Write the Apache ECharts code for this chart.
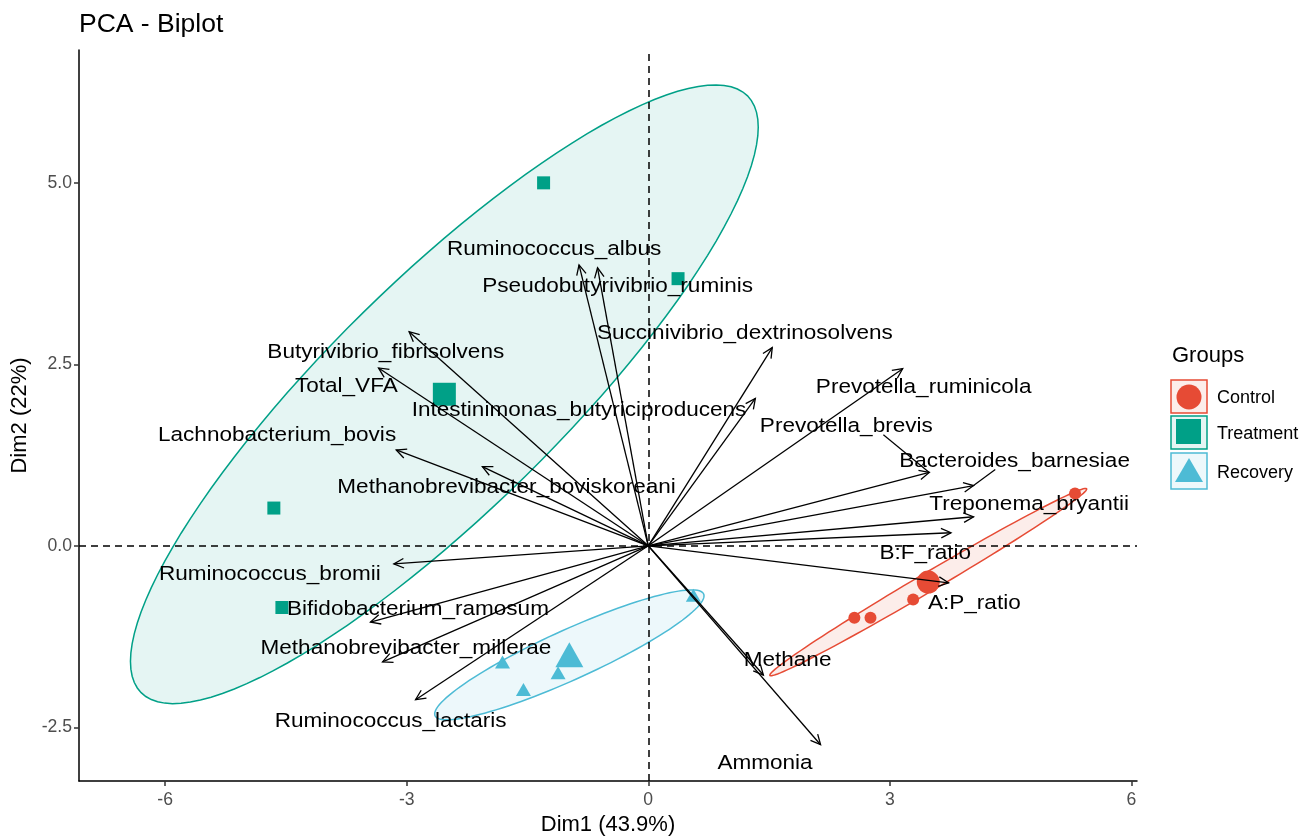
<!DOCTYPE html>
<html>
<head>
<meta charset="utf-8">
<title>PCA - Biplot</title>
<script src="https://cdn.jsdelivr.net/npm/echarts@6/dist/echarts.min.js"></script>
<style>
  html, body { margin: 0; padding: 0; background: #fff; }
  #chart { width: 1316px; height: 839px; }
</style>
</head>
<body>
<div id="chart"></div>
<script>
const FONT = "'Liberation Sans', Arial, sans-serif"

// variables: arrow tips on Dim1 / Dim2
const varNames = ['Ruminococcus_albus', 'Pseudobutyrivibrio_ruminis', 'Butyrivibrio_fibrisolvens', 'Total_VFA',
  'Lachnobacterium_bovis', 'Methanobrevibacter_boviskoreani', 'Intestinimonas_butyriciproducens',
  'Succinivibrio_dextrinosolvens', 'Prevotella_ruminicola', 'Prevotella_brevis', 'Bacteroides_barnesiae',
  'Treponema_bryantii', 'B:F_ratio', 'A:P_ratio', 'Methane', 'Ammonia', 'Ruminococcus_bromii',
  'Bifidobacterium_ramosum', 'Methanobrevibacter_millerae', 'Ruminococcus_lactaris']
const varDim1 = [-0.86, -0.63, -2.97, -3.35, -3.13, -2.06, 1.33, 1.54, 3.16, 3.49, 4.04, 4.04, 3.76, 3.73, 1.43, 2.14, -3.16, -3.45, -3.30, -2.89]
const varDim2 = [3.87, 3.83, 2.95, 2.45, 1.32, 1.09, 2.03, 2.73, 2.44, 1.01, 0.83, 0.40, 0.18, -0.51, -1.78, -2.74, -0.25, -1.05, -1.60, -2.12]
// where the (repelled) labels sit
const labelDim1 = [-1.17, -0.38, -3.26, -3.75, -4.61, -1.76, -0.86, 1.20, 3.42, 2.46, 4.55, 4.73, 3.44, 4.05, 1.73, 1.45, -4.70, -2.86, -3.01, -3.20]
const labelDim2 = [4.08, 3.57, 2.67, 2.19, 1.52, 0.81, 1.86, 2.93, 2.18, 1.65, 1.17, 0.57, -0.10, -0.79, -1.58, -2.99, -0.40, -0.87, -1.41, -2.42]
// leader segments drawn by the label repel
const leaderVars = [9, 10]
const leaderDim1 = [2.92, 4.31]
const leaderDim2 = [1.53, 1.05]

// individuals
const groupNames = ['Control', 'Treatment', 'Recovery']
const controlDim1 = [2.56, 2.76, 3.29, 5.30]
const controlDim2 = [-0.99, -0.99, -0.74, 0.72]
const treatmentDim1 = [-1.30, 0.37, -4.65, -4.55]
const treatmentDim2 = [5.00, 3.68, 0.52, -0.85]
const recoveryDim1 = [0.56, -1.81, -1.55, -1.12]
const recoveryDim2 = [-0.68, -1.60, -1.98, -1.75]

const xTicks = [-6, -3, 0, 3, 6]
const yTicks = [-2.5, 0, 2.5, 5]

const colors = ['#E64B35', '#00A087', '#4DBBD5']
const fills = ['rgba(230,75,53,0.10)', 'rgba(0,160,135,0.10)', 'rgba(77,187,213,0.10)']
const ELLIPSE_R = 1.57

const groupX = [controlDim1, treatmentDim1, recoveryDim1]
const groupY = [controlDim2, treatmentDim2, recoveryDim2]

// group means and ellipses from the covariance of each group
const means = groupX.map((xs, g) => {
  const ys = groupY[g]
  const mx = xs.reduce((a, b) => a + b, 0) / xs.length
  const my = ys.reduce((a, b) => a + b, 0) / ys.length
  return [mx, my]
})
const ellipses = groupX.map((xs, g) => {
  const ys = groupY[g]
  const n = xs.length
  const [mx, my] = means[g]
  let sxx = 0, syy = 0, sxy = 0
  for (let i = 0; i < n; i++) {
    sxx += (xs[i] - mx) * (xs[i] - mx)
    syy += (ys[i] - my) * (ys[i] - my)
    sxy += (xs[i] - mx) * (ys[i] - my)
  }
  sxx /= n - 1; syy /= n - 1; sxy /= n - 1
  const a = Math.sqrt(sxx)
  const b = sxy / a
  const c = Math.sqrt(Math.max(syy - b * b, 0))
  const pts = []
  for (let k = 0; k < 120; k++) {
    const t = 2 * Math.PI * k / 120
    pts.push([mx + ELLIPSE_R * a * Math.cos(t), my + ELLIPSE_R * (b * Math.cos(t) + c * Math.sin(t))])
  }
  return pts
})

const chart = echarts.init(document.getElementById('chart'))

function pointSeries (g, symbol, size, data) {
  return {
    type: 'scatter',
    name: groupNames[g],
    symbol: symbol,
    symbolSize: size,
    itemStyle: { color: colors[g], opacity: 1 },
    data: data,
    z: 3,
    silent: true
  }
}
const zip = (xs, ys) => xs.map((x, i) => [x, ys[i]])
const symbols = ['circle', 'rect', 'triangle']
const smallSizes = [12, 13, [15, 13]]
const bigSizes = [23, 23, [28, 25]]

const series = [
  {
    // ellipses
    type: 'custom',
    z: 1,
    silent: true,
    data: means.map((m, g) => [m[0], m[1], g]),
    renderItem: function (params, api) {
      const g = params.dataIndex
      return {
        type: 'polygon',
        shape: { points: ellipses[g].map(p => api.coord(p)) },
        style: { fill: fills[g], stroke: colors[g], lineWidth: 1.5 }
      }
    }
  },
  {
    type: 'line',
    data: [],
    z: 2,
    markLine: {
      silent: true,
      symbol: 'none',
      label: { show: false },
      lineStyle: { color: '#000', type: [7, 5], width: 1.5 },
      data: [{ xAxis: 0 }, { yAxis: 0 }]
    }
  }
]
for (let g = 0; g < 3; g++) {
  series.push(pointSeries(g, symbols[g], smallSizes[g], zip(groupX[g], groupY[g])))
  series.push(pointSeries(g, symbols[g], bigSizes[g], [means[g]]))
}
series.push({
  // variable arrows
  type: 'custom',
  z: 4,
  silent: true,
  data: zip(varDim1, varDim2),
  renderItem: function (params, api) {
    const o = api.coord([0, 0])
    const p = api.coord([api.value(0), api.value(1)])
    const ang = Math.atan2(p[1] - o[1], p[0] - o[0])
    const L = 11, A = Math.PI / 7
    const h1 = [p[0] - L * Math.cos(ang - A), p[1] - L * Math.sin(ang - A)]
    const h2 = [p[0] - L * Math.cos(ang + A), p[1] - L * Math.sin(ang + A)]
    return {
      type: 'group',
      children: [
        { type: 'line', shape: { x1: o[0], y1: o[1], x2: p[0], y2: p[1] }, style: { stroke: '#000', lineWidth: 1.3 } },
        { type: 'polyline', shape: { points: [h1, p, h2] }, style: { stroke: '#000', lineWidth: 1.3, fill: null } }
      ]
    }
  }
})
series.push({
  // leader segments
  type: 'custom',
  z: 4,
  silent: true,
  data: leaderVars.map((v, i) => [leaderDim1[i], leaderDim2[i], varDim1[v], varDim2[v]]),
  renderItem: function (params, api) {
    const a = api.coord([api.value(0), api.value(1)])
    const b = api.coord([api.value(2), api.value(3)])
    return { type: 'line', shape: { x1: a[0], y1: a[1], x2: b[0], y2: b[1] }, style: { stroke: '#000', lineWidth: 1.2 } }
  }
})
series.push({
  // variable labels
  type: 'custom',
  z: 5,
  silent: true,
  data: zip(labelDim1, labelDim2),
  renderItem: function (params, api) {
    const p = api.coord([api.value(0), api.value(1)])
    return {
      type: 'text',
      x: p[0],
      y: p[1],
      scaleX: 1.1,
      style: {
        text: varNames[params.dataIndex],
        fontSize: 20.5,
        fontFamily: FONT,
        fill: '#000',
        align: 'center',
        verticalAlign: 'middle'
      }
    }
  }
})

// legend drawn as ggplot keys
const legendGraphics = [
  { type: 'text', left: 1172, top: 345, style: { text: 'Groups', fontSize: 22, fontFamily: FONT, fill: '#000' } }
]
const keyTop = [380, 416, 453]
const keyH = [33, 33, 36]
for (let g = 0; g < 3; g++) {
  legendGraphics.push({
    type: 'rect',
    shape: { x: 1171, y: keyTop[g], width: 36, height: keyH[g] },
    style: { fill: fills[g], stroke: colors[g], lineWidth: 1.5 }
  })
  legendGraphics.push({
    type: 'text',
    x: 1217,
    y: keyTop[g] + keyH[g] / 2 + 2,
    style: { text: groupNames[g], fontSize: 18, fontFamily: FONT, fill: '#000', verticalAlign: 'middle' }
  })
}
legendGraphics.push({ type: 'circle', shape: { cx: 1189, cy: 397, r: 12.5 }, style: { fill: colors[0] } })
legendGraphics.push({ type: 'rect', shape: { x: 1176, y: 419, width: 25, height: 25 }, style: { fill: colors[1] } })
legendGraphics.push({ type: 'polygon', shape: { points: [[1189, 458], [1175, 482], [1203, 482]] }, style: { fill: colors[2] } })

const option = {
  backgroundColor: '#fff',
  animation: false,
  title: {
    text: 'PCA - Biplot',
    left: 79,
    top: 11,
    padding: 0,
    textStyle: { fontSize: 26.5, fontWeight: 'normal', color: '#000', fontFamily: FONT }
  },
  grid: { left: 79, right: 179, top: 50, bottom: 58, containLabel: false, outerBoundsMode: 'none' },
  xAxis: {
    type: 'value',
    min: -7.07,
    max: 6.07,
    name: 'Dim1 (43.9%)',
    nameLocation: 'middle',
    nameGap: 33,
    nameTextStyle: { fontSize: 22, color: '#000', fontFamily: FONT },
    axisLine: { show: true, onZero: false, lineStyle: { color: '#000', width: 1.5 } },
    axisTick: { show: true, length: 5, customValues: xTicks, lineStyle: { color: '#333', width: 1.5 } },
    axisLabel: { customValues: xTicks, fontSize: 17.6, color: '#4D4D4D', fontFamily: FONT, margin: 10 },
    splitLine: { show: false }
  },
  yAxis: {
    type: 'value',
    min: -3.24,
    max: 6.83,
    name: 'Dim2 (22%)',
    nameLocation: 'middle',
    nameGap: 48,
    nameRotate: 90,
    nameTextStyle: { fontSize: 22, color: '#000', fontFamily: FONT },
    axisLine: { show: true, onZero: false, lineStyle: { color: '#000', width: 1.5 } },
    axisTick: { show: true, length: 5, customValues: yTicks, lineStyle: { color: '#333', width: 1.5 } },
    axisLabel: {
      customValues: yTicks,
      fontSize: 17.6,
      color: '#4D4D4D',
      fontFamily: FONT,
      margin: 7,
      formatter: v => v.toFixed(1)
    },
    splitLine: { show: false }
  },
  graphic: legendGraphics,
  series: series
}

chart.setOption(option)
</script>
</body>
</html>
